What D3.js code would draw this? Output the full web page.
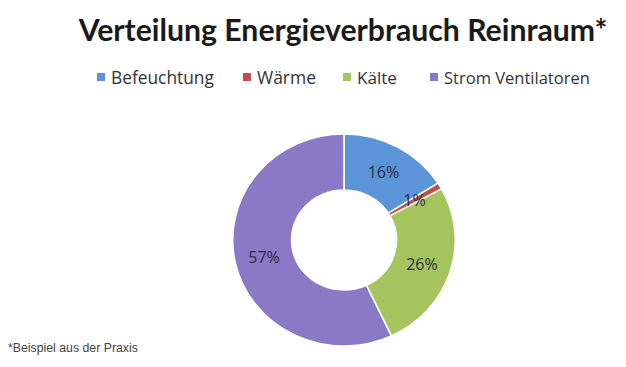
<!DOCTYPE html>
<html lang="de">
<head>
<meta charset="UTF-8">
<title>Verteilung Energieverbrauch Reinraum</title>
<script src="https://cdn.jsdelivr.net/npm/d3@7"></script>
<style>
    body{ margin:0; background:#fff; }
    svg{ display:block; }
</style>
</head>
<body>
<svg id="chart" width="626" height="367"></svg>
<script>
    // data
    let categories = ["Befeuchtung", "Wärme", "Kälte", "Strom Ventilatoren"]
    let shares = [16, 1, 26, 57]
    let colors = ["#5b95d7", "#c0504d", "#a6c45d", "#8a79c4"]

    let svg = d3.select("#chart")

    // title
    let title = svg.append("text")
        .attr("x", 343).attr("y", 41)
        .attr("text-anchor", "middle")
        .style("font-family", "Lato, 'Open Sans', sans-serif")
        .style("font-weight", "bold")
        .style("font-size", "28px")
        .style("fill", "#1a1a1a")
        .text("Verteilung Energieverbrauch Reinraum*")
    // fit title width to ~529px
    let tw = title.node().getComputedTextLength()
    title.style("font-size", (28 * 529 / tw) + "px")

    // legend: square x, text start, text width
    let legendX = [97, 243, 343, 430]
    let legendW = [103, 59, 40, 146]
    let legend = svg.append("g")
    categories.forEach((c, i) => {
        legend.append("rect")
            .attr("x", legendX[i]).attr("y", 73)
            .attr("width", 8).attr("height", 8)
            .attr("fill", colors[i])
        let t = legend.append("text")
            .attr("x", legendX[i] + 14).attr("y", 84)
            .style("font-family", "'Open Sans', sans-serif")
            .style("font-size", "16px")
            .style("fill", "#333")
            .text(c)
        let w = t.node().getComputedTextLength()
        t.style("font-size", (16 * legendW[i] / w) + "px")
    })

    // doughnut
    let cx = 344, cy = 240
    let outerR = 106, innerR = 50
    let pie = d3.pie().sort(null).value(d => d)
    let arc = d3.arc().innerRadius(innerR).outerRadius(outerR)
    let labelArc = d3.arc().innerRadius((innerR + outerR) / 2).outerRadius((innerR + outerR) / 2)
    let arcs = pie(shares)

    let ring = svg.append("g")
        .attr("transform", "translate(" + cx + "," + cy + ") scale(1.05,1)")
    ring.selectAll("path")
        .data(arcs)
        .join("path")
        .attr("d", arc)
        .attr("fill", (d, i) => colors[i])
        .attr("stroke", "#fff")
        .attr("stroke-width", 1.5)

    svg.append("g")
        .attr("transform", "translate(" + cx + "," + cy + ")")
        .selectAll("text")
        .data(arcs)
        .join("text")
        .attr("transform", d => {
            let p = labelArc.centroid(d)
            return "translate(" + (p[0] * 1.05) + "," + (p[1] + 6) + ")"
        })
        .attr("text-anchor", "middle")
        .style("font-family", "'Open Sans', sans-serif")
        .style("font-size", "16px")
        .style("fill", "#2b2b42")
        .text(d => d.data + "%")

    // footnote
    let note = svg.append("text")
        .attr("x", 8).attr("y", 352)
        .style("font-family", "'Liberation Sans', Arial, sans-serif")
        .style("font-size", "10px")
        .style("fill", "#444")
        .text("*Beispiel aus der Praxis")
    let nw = note.node().getComputedTextLength()
    note.style("font-size", (10 * 130 / nw) + "px")
</script>
</body>
</html>
